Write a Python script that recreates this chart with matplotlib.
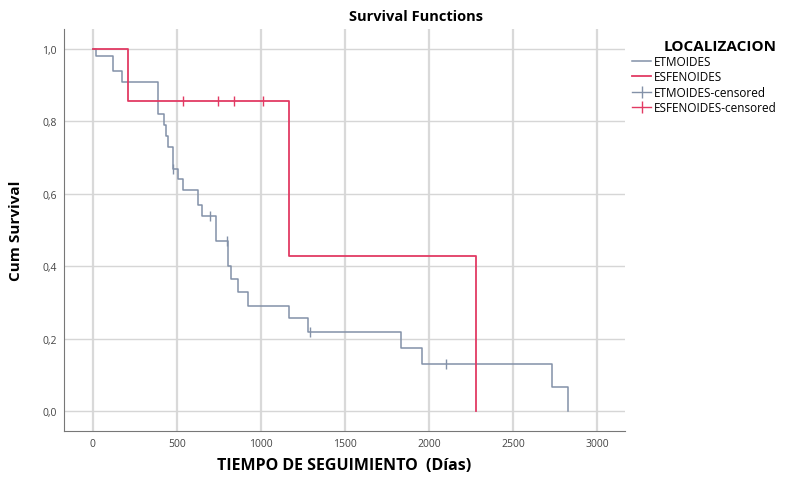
import numpy as np
import matplotlib.pyplot as plt
from matplotlib.lines import Line2D

plt.rcParams['font.family'] = ['Open Sans', 'DejaVu Sans']

# ETMOIDES: event times (days) and cumulative survival after each event
etm_t = [0, 20, 119, 172, 386, 422, 434, 451, 475, 505, 535, 624, 653, 731, 808, 820,
         867, 927, 1170, 1283, 1835, 1960, 2732, 2827]
etm_s = [1.0, 0.98, 0.94, 0.91, 0.82, 0.79, 0.76, 0.73, 0.67, 0.64, 0.61, 0.57, 0.54,
         0.47, 0.40, 0.365, 0.33, 0.29, 0.257, 0.218, 0.174, 0.13, 0.066, 0.0]
etm_cens_t = [480, 700, 800, 1290, 2103]
etm_cens_s = [0.67, 0.54, 0.47, 0.218, 0.13]

# ESFENOIDES
esf_t = [0, 208, 1170, 2281]
esf_s = [1.0, 0.857, 0.4286, 0.0]
esf_cens_t = [540, 748, 838, 1016]
esf_cens_s = [0.857, 0.857, 0.857, 0.857]

xticks = [0, 500, 1000, 1500, 2000, 2500, 3000]
yticks = [0.0, 0.2, 0.4, 0.6, 0.8, 1.0]

etm_col = '#8391a8'
esf_col = '#e23a63'

fig = plt.figure(figsize=(7.97, 4.85), dpi=100)
ax = fig.add_axes([0.080, 0.109, 0.704, 0.829])

for x in xticks:
    ax.axvline(x, color='#d9d9d9', lw=1.6, zorder=0)
for y in yticks:
    ax.axhline(y, color='#d6d6d6', lw=1.0, zorder=0)

ax.step(etm_t, etm_s, where='post', color=etm_col, lw=1.1)
ax.step(esf_t, esf_s, where='post', color=esf_col, lw=1.3)
ax.plot(etm_cens_t, etm_cens_s, ls='none', marker='|', ms=7, mew=1.0, color=etm_col)
ax.plot(esf_cens_t, esf_cens_s, ls='none', marker='|', ms=7, mew=1.0, color=esf_col)

ax.set_xlim(-172, 3166)
ax.set_ylim(-0.055, 1.055)
ax.set_xticks(xticks)
ax.set_xticklabels([str(v) for v in xticks])
ax.set_yticks(yticks)
ax.set_yticklabels([f'{v:.1f}'.replace('.', ',') for v in yticks])
ax.tick_params(length=0, labelsize=7.5, colors='#444444', pad=5)
for s in ['top', 'right']:
    ax.spines[s].set_visible(False)
ax.spines['left'].set_color('#777777')
ax.spines['bottom'].set_color('#777777')

fig.text(0.522, 0.965, 'Survival Functions', fontsize=10.5, fontweight='bold',
         ha='center', va='center')
ax.set_ylabel('Cum Survival', fontsize=11, fontweight='bold', labelpad=14)
ax.set_xlabel('TIEMPO DE SEGUIMIENTO  (Días)', fontsize=11.5, fontweight='bold', labelpad=6)

handles = [
    Line2D([], [], color=etm_col, lw=1.1),
    Line2D([], [], color=esf_col, lw=1.3),
    Line2D([], [], color=etm_col, lw=1.0, marker='|', ms=8, mew=1.0),
    Line2D([], [], color=esf_col, lw=1.0, marker='|', ms=8, mew=1.0),
]
labels = ['ETMOIDES', 'ESFENOIDES', 'ETMOIDES-censored', 'ESFENOIDES-censored']
leg = fig.legend(handles, labels, loc='upper left', bbox_to_anchor=(0.78, 0.94),
                 frameon=False, title='LOCALIZACION', fontsize=8.5, handlelength=1.6,
                 handletextpad=0.2, labelspacing=0.2, alignment='right')
leg.get_title().set_fontweight('bold')
leg.get_title().set_fontsize(11)

fig.savefig('out.png', dpi=100)
